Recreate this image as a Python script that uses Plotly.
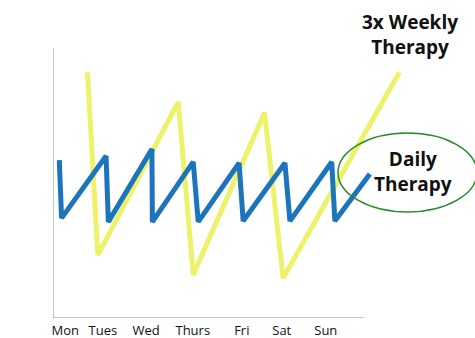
import plotly.graph_objects as go

# Weekday labels along the time axis and where they sit (in days)
day_labels = ["Mon", "Tues", "Wed", "Thurs", "Fri", "Sat", "Sun"]
day_positions = [0.13, 0.96, 1.91, 2.94, 4.02, 4.90, 5.87]

# Daily therapy: small sawtooth (dose each day, then gradual change)
daily_x = [0.00, 0.05, 1.03, 1.08, 2.04, 2.05, 2.95, 3.06, 3.96, 4.05, 4.97, 5.08, 6.00, 6.07, 6.84]
daily_y = [58.5, 37.0, 60.0, 35.6, 62.6, 35.6, 57.8, 35.6, 57.4, 35.9, 57.4, 35.9, 57.8, 35.9, 53.3]

# 3x weekly therapy: large swings between doses
weekly_x = [0.62, 0.85, 2.62, 2.95, 4.52, 4.93, 7.49]
weekly_y = [91.0, 23.3, 80.0, 16.0, 76.0, 14.8, 91.0]

PX_PER_DAY = 45.4
PX_PER_UNIT = 2.7
LEFT, TOP, BOTTOM = 53, 20, 20
W, H = 475, 338
plot_w = W - LEFT
plot_h = H - TOP - BOTTOM
x0 = -(59.3 - LEFT) / PX_PER_DAY
x1 = x0 + plot_w / PX_PER_DAY
y_top = plot_h / PX_PER_UNIT


def px_x(p):
    return x0 + (p - LEFT) / PX_PER_DAY


def px_y(p):
    return (H - BOTTOM - p) / PX_PER_UNIT


fig = go.Figure()
fig.add_trace(go.Scatter(x=weekly_x, y=weekly_y, mode="lines",
                         line=dict(color="#eef26a", width=5), hoverinfo="skip"))
fig.add_trace(go.Scatter(x=daily_x, y=daily_y, mode="lines",
                         line=dict(color="#1c75bc", width=5), hoverinfo="skip"))

axis_col = "#8c8c8c"
fig.add_shape(type="line", xref="x", yref="y", x0=x0, x1=x0, y0=0, y1=px_y(48),
              line=dict(color=axis_col, width=1))
fig.add_shape(type="line", xref="x", yref="y", x0=x0, x1=px_x(364), y0=0, y1=0,
              line=dict(color=axis_col, width=1))
fig.add_shape(type="circle", xref="x", yref="y",
              x0=px_x(338), x1=px_x(477), y0=px_y(212), y1=px_y(133),
              line=dict(color="#2a8a2a", width=1.5))

label_font = dict(family="Open Sans", size=19, color="#111")
fig.add_annotation(x=px_x(410), y=px_y(34), xref="x", yref="y",
                   text="<b>3x Weekly<br>Therapy</b>", showarrow=False,
                   font=label_font, align="center")
fig.add_annotation(x=px_x(413), y=px_y(171), xref="x", yref="y",
                   text="<b>Daily<br>Therapy</b>", showarrow=False,
                   font=label_font, align="center")
fig.add_annotation(x=px_x(30), y=px_y(177), xref="x", yref="y",
                   text="Fluctuation", textangle=-90, showarrow=False,
                   font=dict(family="Open Sans", size=18, color="#111"))

fig.update_layout(
    width=W, height=H,
    margin=dict(l=LEFT, r=0, t=TOP, b=BOTTOM, pad=0),
    plot_bgcolor="white", paper_bgcolor="white",
    showlegend=False,
    xaxis=dict(range=[x0, x1], tickvals=day_positions, ticktext=day_labels,
               showgrid=False, zeroline=False, showline=False, ticks="",
               ticklabelstandoff=3,
               tickfont=dict(family="Open Sans", size=13, color="#111"),
               fixedrange=True),
    yaxis=dict(range=[0, y_top], showgrid=False, zeroline=False, showline=False,
               showticklabels=False, ticks="", fixedrange=True),
)

fig.write_html("out.html", config={"displayModeBar": False})
